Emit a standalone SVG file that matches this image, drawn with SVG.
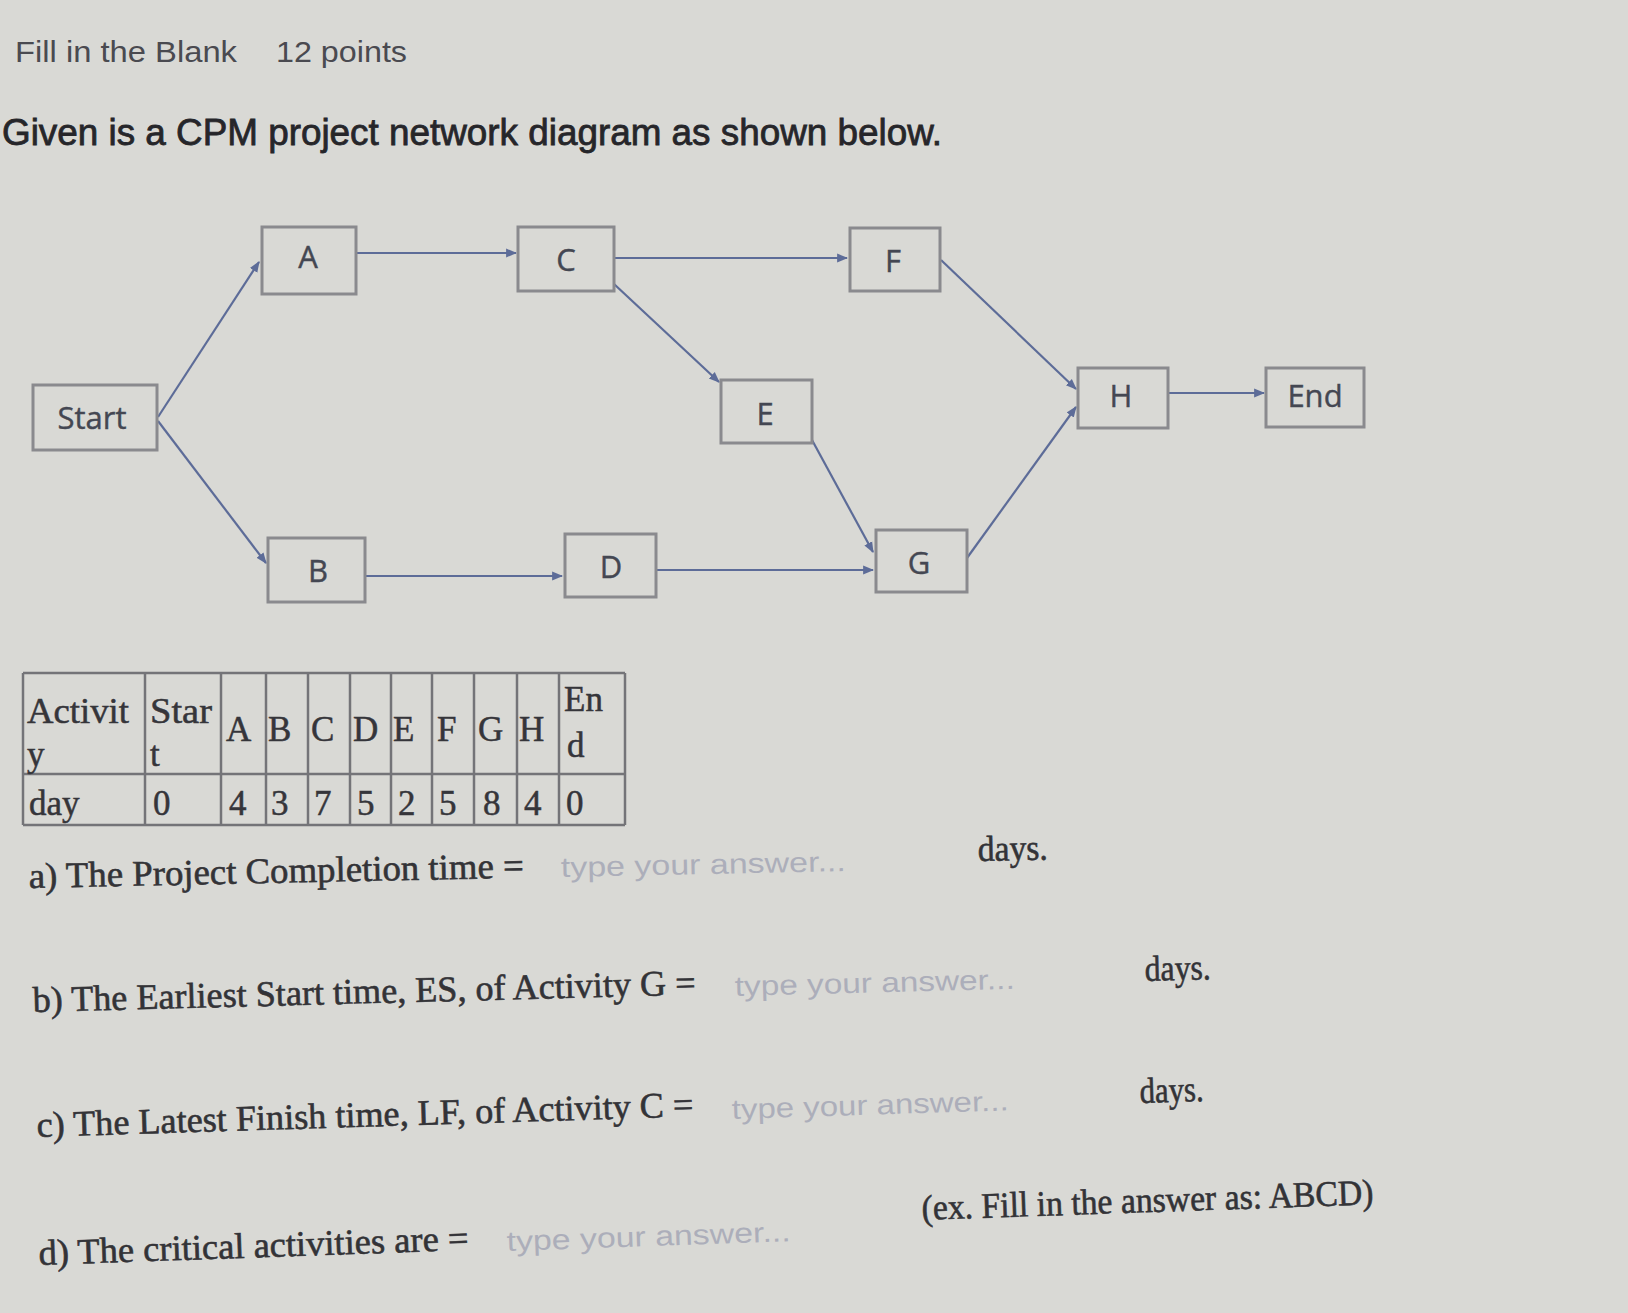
<svg xmlns="http://www.w3.org/2000/svg" width="1628" height="1313" viewBox="0 0 1628 1313">
  <style>
    .node rect { fill: none; stroke: #8a8a8e; stroke-width: 3; }
    .node text { font-family: "Open Sans", "Liberation Sans", sans-serif; font-size: 31px; fill: #444752; stroke: #444752; stroke-width: 0.4; text-anchor: middle; }
    .conn line { stroke: #5d6c98; stroke-width: 2.2; marker-end: url(#arr); }
    .tbl line { stroke: #747478; stroke-width: 2.5; }
    .tt { font-family: "Liberation Serif", "Times New Roman", serif; font-size: 35px; fill: #35353a; stroke: #35353a; stroke-width: 0.5; }
    .q { font-family: "Liberation Serif", "Times New Roman", serif; font-size: 36px; fill: #333337; stroke: #333337; stroke-width: 0.6; }
    .ph { font-family: "Liberation Sans", Arial, sans-serif; font-size: 28px; fill: #acaeba; }
    .hd { font-family: "Liberation Sans", Arial, sans-serif; fill: #4a4a50; }
  </style>
  <defs>
    <marker id="arr" viewBox="0 0 10 10" refX="9" refY="5" markerWidth="11" markerHeight="11" markerUnits="userSpaceOnUse" orient="auto">
      <path d="M0,1 L10,5 L0,9 z" fill="#5d6c98"/>
    </marker>
  </defs>
  <rect x="0" y="0" width="1628" height="1313" fill="#d9d9d5"/>

  <g id="header">
    <text class="hd" x="15" y="62" font-size="29" textLength="222" lengthAdjust="spacingAndGlyphs">Fill in the Blank</text>
    <text class="hd" x="276" y="62" font-size="29" textLength="131" lengthAdjust="spacingAndGlyphs">12 points</text>
    <text class="hd" x="2" y="145" font-size="37" style="fill:#26262a;stroke:#26262a;stroke-width:0.8" textLength="940" lengthAdjust="spacingAndGlyphs">Given is a CPM project network diagram as shown below.</text>
  </g>

  <g id="connectors" class="conn">
    <line x1="158" y1="417" x2="259" y2="262"/>
    <line x1="158" y1="421" x2="266" y2="563"/>
    <line x1="357" y1="253" x2="516" y2="253"/>
    <line x1="614" y1="258" x2="847" y2="258"/>
    <line x1="614" y1="284" x2="719" y2="382"/>
    <line x1="812" y1="440" x2="873" y2="552"/>
    <line x1="366" y1="576" x2="562" y2="576"/>
    <line x1="657" y1="570" x2="873" y2="570"/>
    <line x1="941" y1="260" x2="1076" y2="389"/>
    <line x1="967" y1="558" x2="1076" y2="407"/>
    <line x1="1168" y1="393" x2="1264" y2="393"/>
  </g>

  <g id="node-start" class="node"><rect x="33" y="385" width="124" height="65"/><text x="92" y="429">Start</text></g>
  <g id="node-a" class="node"><rect x="262" y="227" width="94" height="67"/><text x="308" y="268">A</text></g>
  <g id="node-c" class="node"><rect x="518" y="227" width="96" height="64"/><text x="566" y="271">C</text></g>
  <g id="node-f" class="node"><rect x="850" y="228" width="90" height="63"/><text x="893" y="272">F</text></g>
  <g id="node-e" class="node"><rect x="721" y="380" width="91" height="63"/><text x="765" y="425">E</text></g>
  <g id="node-h" class="node"><rect x="1078" y="368" width="90" height="60"/><text x="1121" y="407">H</text></g>
  <g id="node-end" class="node"><rect x="1266" y="368" width="98" height="59"/><text x="1315" y="407">End</text></g>
  <g id="node-b" class="node"><rect x="268" y="538" width="97" height="64"/><text x="318" y="582">B</text></g>
  <g id="node-d" class="node"><rect x="565" y="534" width="91" height="63"/><text x="611" y="578">D</text></g>
  <g id="node-g" class="node"><rect x="876" y="530" width="91" height="62"/><text x="919" y="574">G</text></g>

  <g id="table">
    <g class="tbl">
      <line x1="23" y1="673" x2="625" y2="673"/>
      <line x1="23" y1="774" x2="625" y2="774"/>
      <line x1="23" y1="825" x2="625" y2="825"/>
      <line x1="23" y1="673" x2="23" y2="825"/>
      <line x1="145" y1="673" x2="145" y2="825"/>
      <line x1="221" y1="673" x2="221" y2="825"/>
      <line x1="266" y1="673" x2="266" y2="825"/>
      <line x1="308" y1="673" x2="308" y2="825"/>
      <line x1="350" y1="673" x2="350" y2="825"/>
      <line x1="391" y1="673" x2="391" y2="825"/>
      <line x1="432" y1="673" x2="432" y2="825"/>
      <line x1="474" y1="673" x2="474" y2="825"/>
      <line x1="517" y1="673" x2="517" y2="825"/>
      <line x1="559" y1="673" x2="559" y2="825"/>
      <line x1="625" y1="673" x2="625" y2="825"/>
    </g>
    <text class="tt" x="27" y="723" textLength="102" lengthAdjust="spacingAndGlyphs">Activit</text>
    <text class="tt" x="27" y="766">y</text>
    <text class="tt" x="150" y="723" textLength="62" lengthAdjust="spacingAndGlyphs">Star</text>
    <text class="tt" x="150" y="766">t</text>
    <text class="tt" x="226" y="741">A</text>
    <text class="tt" x="268" y="741">B</text>
    <text class="tt" x="311" y="741">C</text>
    <text class="tt" x="353" y="741">D</text>
    <text class="tt" x="393" y="741">E</text>
    <text class="tt" x="437" y="741">F</text>
    <text class="tt" x="478" y="741">G</text>
    <text class="tt" x="519" y="741">H</text>
    <text class="tt" x="564" y="711">En</text>
    <text class="tt" x="567" y="757">d</text>
    <text class="tt" x="29" y="815">day</text>
    <text class="tt" x="153" y="815">0</text>
    <text class="tt" x="229" y="815">4</text>
    <text class="tt" x="271" y="815">3</text>
    <text class="tt" x="314" y="815">7</text>
    <text class="tt" x="357" y="815">5</text>
    <text class="tt" x="398" y="815">2</text>
    <text class="tt" x="439" y="815">5</text>
    <text class="tt" x="483" y="815">8</text>
    <text class="tt" x="524" y="815">4</text>
    <text class="tt" x="566" y="815">0</text>
  </g>

  <g id="questions">
    <text class="q" x="29" y="888" transform="rotate(-1.2 29 888)" textLength="495" lengthAdjust="spacingAndGlyphs">a) The Project Completion time =</text>
    <text class="ph" x="561" y="877" transform="rotate(-1.2 561 877)" textLength="285" lengthAdjust="spacingAndGlyphs">type your answer...</text>
    <text class="q" x="978" y="861" transform="rotate(-1.2 978 861)" font-size="32" textLength="70" lengthAdjust="spacingAndGlyphs">days.</text>

    <text class="q" x="33" y="1012" transform="rotate(-1.5 33 1012)" textLength="663" lengthAdjust="spacingAndGlyphs">b) The Earliest Start time, ES, of Activity G =</text>
    <text class="ph" x="735" y="996" transform="rotate(-1.5 735 996)" textLength="280" lengthAdjust="spacingAndGlyphs">type your answer...</text>
    <text class="q" x="1145" y="981" transform="rotate(-1.5 1145 981)" font-size="32" textLength="66" lengthAdjust="spacingAndGlyphs">days.</text>

    <text class="q" x="37" y="1137" transform="rotate(-1.8 37 1137)" textLength="657" lengthAdjust="spacingAndGlyphs">c) The Latest Finish time, LF, of Activity C =</text>
    <text class="ph" x="732" y="1119" transform="rotate(-1.8 732 1119)" textLength="277" lengthAdjust="spacingAndGlyphs">type your answer...</text>
    <text class="q" x="1140" y="1103" transform="rotate(-1.8 1140 1103)" font-size="32" textLength="64" lengthAdjust="spacingAndGlyphs">days.</text>

    <text class="q" x="39" y="1265" transform="rotate(-2 39 1265)" textLength="430" lengthAdjust="spacingAndGlyphs">d) The critical activities are =</text>
    <text class="ph" x="507" y="1251" transform="rotate(-2 507 1251)" textLength="284" lengthAdjust="spacingAndGlyphs">type your answer...</text>
    <text class="q" x="922" y="1220" transform="rotate(-2 922 1220)" font-size="32" textLength="452" lengthAdjust="spacingAndGlyphs">(ex. Fill in the answer as: ABCD)</text>
  </g>
</svg>
